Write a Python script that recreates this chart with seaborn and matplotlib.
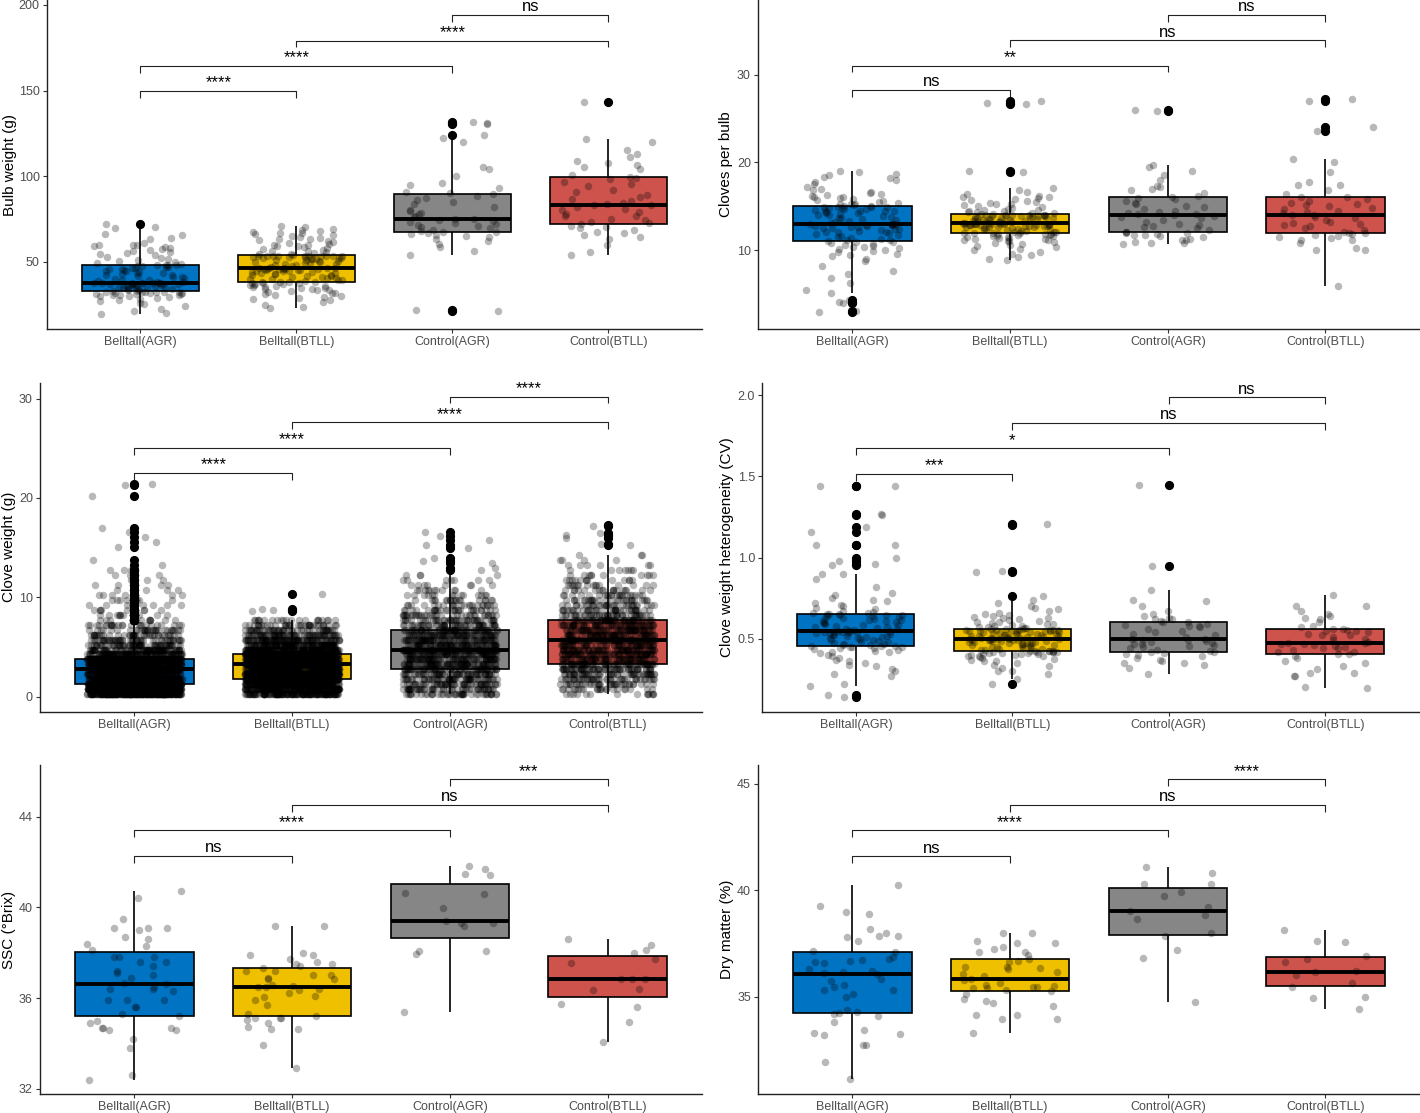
import numpy as np
import pandas as pd
import seaborn as sns
import matplotlib.pyplot as plt

groups = ["Belltall(AGR)", "Belltall(BTLL)", "Control(AGR)", "Control(BTLL)"]
box_colors = ["#0073C2", "#EFC000", "#868686", "#CD534C"]
pairs = [(0, 1), (0, 2), (1, 3), (2, 3)]

# Bulb weight (g)
bw_belltall_agr = [19.3, 20.2, 21.0, 22.5, 24.0, 25.1, 26.0, 27.0, 27.8, 28.3, 28.9, 29.4, 29.8, 30.0, 30.3,
                   30.5, 30.8, 31.0, 31.2, 31.4, 31.6, 31.8, 32.0, 32.1, 32.2, 32.3, 32.4, 32.5, 32.6, 32.7,
                   32.9, 33.2, 33.5, 33.8, 34.0, 34.2, 34.5, 34.7, 35.0, 35.2, 35.4, 35.6, 35.8, 36.0, 36.2,
                   36.4, 36.5, 36.7, 36.8, 37.0, 37.1, 37.2, 37.3, 37.4, 37.5, 37.6, 37.65, 37.7, 37.75, 37.8,
                   37.9, 38.3, 38.7, 39.2, 39.6, 40.0, 40.4, 40.8, 41.2, 41.6, 42.0, 42.4, 42.8, 43.2, 43.6,
                   44.0, 44.4, 44.8, 45.2, 45.5, 45.8, 46.1, 46.4, 46.7, 47.0, 47.3, 47.6, 47.8, 48.0, 48.1,
                   48.3, 48.8, 49.3, 49.8, 50.3, 50.8, 51.5, 52.2, 53.0, 53.8, 54.5, 55.0, 55.5, 56.0, 56.8,
                   57.5, 58.0, 58.5, 59.0, 59.5, 59.8, 60.0, 61.0, 63.0, 64.0, 65.5, 66.0, 69.8, 70.5, 72.3]
bw_belltall_btll = [22.8, 23.5, 25.0, 26.5, 27.5, 28.5, 29.0, 29.5, 30.0, 30.5, 31.0, 31.5, 32.0, 32.4, 32.8,
                    33.2, 33.5, 33.8, 34.1, 34.4, 34.7, 35.0, 35.3, 35.6, 35.9, 36.2, 36.5, 36.8, 37.0, 37.3,
                    37.6, 37.8, 38.0, 38.2, 38.35,
                    38.45, 38.8, 39.1, 39.4, 39.7, 40.0, 40.3, 40.6, 40.9, 41.2, 41.5, 41.8, 42.1, 42.4, 42.7,
                    43.0, 43.3, 43.6, 43.9, 44.1, 44.3, 44.5, 44.7, 44.9, 45.1, 45.3, 45.5, 45.6, 45.7, 45.8,
                    45.9, 46.0, 46.05, 46.1, 46.15,
                    46.25, 46.6, 47.0, 47.4, 47.8, 48.2, 48.5, 48.8, 49.1, 49.4, 49.7, 50.0, 50.3, 50.6, 50.9,
                    51.2, 51.4, 51.6, 51.8, 52.0, 52.2, 52.4, 52.6, 52.8, 53.0, 53.1, 53.2, 53.3, 53.35, 53.4,
                    53.45, 53.5, 53.52, 53.55, 53.6,
                    53.8, 54.3, 54.8, 55.2, 55.6, 56.0, 56.5, 57.0, 57.5, 58.0, 58.5, 59.0, 59.3, 59.6, 60.0,
                    60.5, 61.0, 61.5, 62.0, 62.5, 63.0, 63.5, 64.0, 64.5, 65.0, 65.5, 66.0, 66.5, 67.0, 67.5,
                    68.0, 68.5, 69.2, 70.0, 70.9]
bw_control_agr = [21.2, 21.6, 54.0, 56.5, 58.5, 60.5, 62.0, 63.5, 64.5, 65.0, 65.5, 66.0, 66.8, 67.2,
                  67.6, 68.2, 68.8, 69.5, 70.0, 70.8, 71.5, 72.0, 72.8, 73.5, 74.0, 74.5, 75.0,
                  75.2, 76.0, 77.0, 78.0, 78.5, 79.5, 80.5, 82.0, 83.5, 85.0, 86.0, 87.5, 88.5, 89.3,
                  89.9, 91.0, 93.0, 95.0, 96.0, 100.0, 104.0, 105.5, 120.0, 122.0, 124.0, 130.5, 131.0, 131.5]
bw_control_btll = [54.2, 55.5, 59.5, 63.5, 64.5, 65.5, 66.5, 67.5, 68.5, 69.5, 70.0, 71.0, 72.0,
                   72.4, 73.5, 74.5, 75.0, 76.5, 77.0, 78.0, 79.0, 80.0, 81.0, 82.0, 83.0, 83.3,
                   83.5, 84.5, 85.5, 86.5, 88.0, 89.0, 90.5, 92.0, 94.0, 95.5, 96.5, 98.5, 99.2,
                   99.6, 100.5, 104.0, 105.5, 106.5, 107.5, 109.0, 111.0, 113.0, 115.5, 120.0, 121.5, 143.5]
bw_sig = ["****", "****", "****", "ns"]
bw_bar_y = [149.8, 164.4, 179.2, 194.2]

# Cloves per bulb
cpb_belltall_agr = [2.9, 3.05, 3.95, 4.1, 4.25, 5.1, 5.5, 6.2, 6.8, 7.3, 7.6, 8.2, 8.8, 9.0,
                    9.3, 9.4, 9.6, 9.8, 9.9, 10.0, 10.1, 10.2, 10.3, 10.4, 10.5, 10.6, 10.7, 10.8, 10.9, 10.95,
                    11.05, 11.1, 11.2, 11.3, 11.4, 11.5, 11.6, 11.7, 11.8, 11.9, 12.0, 12.05, 12.1, 12.2, 12.3,
                    12.35, 12.4, 12.5, 12.55, 12.6, 12.65, 12.7, 12.75, 12.8, 12.85, 12.9, 12.92, 12.94, 12.96, 12.98,
                    13.02, 13.1, 13.2, 13.3, 13.4, 13.5, 13.6, 13.7, 13.8, 13.9, 14.0, 14.05, 14.1, 14.2, 14.25,
                    14.3, 14.4, 14.45, 14.5, 14.55, 14.6, 14.65, 14.7, 14.75, 14.8, 14.85, 14.9, 14.93, 14.96, 14.98,
                    15.05, 15.1, 15.2, 15.25, 15.3, 15.4, 15.5, 15.6, 15.7, 15.8, 15.9, 16.0, 16.1, 16.2, 16.3,
                    16.4, 16.5, 16.6, 16.8, 17.0, 17.2, 17.5, 17.7, 18.0, 18.2, 18.3, 18.5, 18.7, 18.9, 19.0]
cpb_belltall_btll = [8.9, 8.95, 9.2, 9.4, 9.6, 9.8, 10.0, 10.1, 10.3, 10.5, 10.6, 10.7, 10.8, 10.9, 11.0,
                     11.05, 11.1, 11.2, 11.25, 11.3, 11.35, 11.4, 11.45, 11.5, 11.55, 11.6, 11.65, 11.7, 11.75,
                     11.8, 11.85, 11.88, 11.91, 11.93, 11.95,
                     11.98, 12.02, 12.06, 12.1, 12.15, 12.2, 12.25, 12.3, 12.35, 12.4, 12.45, 12.5, 12.55, 12.6,
                     12.62, 12.65, 12.68, 12.7, 12.72, 12.75, 12.78, 12.8, 12.82, 12.85, 12.87, 12.89, 12.91,
                     12.93, 12.95, 12.96, 12.97, 12.98, 12.99, 13.0, 13.01,
                     13.05, 13.08, 13.1, 13.13, 13.16, 13.2, 13.23, 13.26, 13.3, 13.33, 13.36, 13.4, 13.43, 13.46,
                     13.5, 13.53, 13.56, 13.6, 13.63, 13.66, 13.7, 13.73, 13.76, 13.8, 13.83, 13.86, 13.88, 13.9,
                     13.92, 13.94, 13.96, 13.98, 14.0, 14.02, 14.04,
                     14.1, 14.15, 14.2, 14.25, 14.3, 14.35, 14.4, 14.5, 14.55, 14.6, 14.7, 14.8, 14.9, 15.0,
                     15.1, 15.2, 15.3, 15.4, 15.5, 15.6, 15.7, 15.8, 15.9, 16.0, 16.1, 16.2, 16.4, 16.6, 16.9,
                     17.1, 18.9, 19.0, 26.6, 26.8, 27.0]
cpb_control_agr = [10.7, 10.75, 10.8, 10.9, 11.1, 11.2, 11.3, 11.5, 11.6, 11.7, 11.75, 11.8, 11.9, 11.98,
                   12.02, 12.1, 12.3, 12.5, 12.6, 12.7, 12.8, 13.0, 13.2, 13.4, 13.6, 13.8, 13.9,
                   14.0,
                   14.1, 14.15, 14.2, 14.3, 14.5, 14.7, 14.9, 15.0, 15.2, 15.4, 15.6, 15.8, 15.95,
                   16.05, 16.2, 16.5, 16.8, 17.0, 17.2, 17.3, 18.0, 18.5, 19.0, 19.5, 19.7, 25.8, 26.0]
cpb_control_btll = [5.95, 10.0, 10.05, 10.2, 10.8, 11.1, 11.2, 11.4, 11.5, 11.6, 11.7, 11.8, 11.95,
                    11.99, 12.1, 12.3, 12.5, 12.7, 12.9, 13.0, 13.1, 13.2, 13.4, 13.6, 13.8, 13.95,
                    14.05, 14.2, 14.3, 14.5, 14.7, 14.8, 15.0, 15.1, 15.2, 15.4, 15.6, 15.8, 16.0,
                    16.1, 16.4, 16.8, 17.4, 17.4, 17.7, 18.9, 20.0, 20.4, 23.6, 24.0, 27.0, 27.2]
cpb_sig = ["ns", "**", "ns", "ns"]
cpb_bar_y = [28.26, 31.03, 33.92, 36.81]

# Clove weight (g): values read as levels with counts, plus the sparse upper tail
cw_levels = [0.25, 0.75, 1.25, 1.75, 2.25, 2.75, 3.25, 3.75, 4.25, 4.75, 5.25, 5.75, 6.25, 6.75, 7.25,
             7.75, 8.25, 8.75, 9.25, 9.75, 10.25, 10.75, 11.25, 11.75, 12.25, 12.75, 13.25, 13.75, 14.25]
cw_counts_belltall_agr = [238, 252, 266, 182, 154, 168, 196, 308, 112, 84, 63, 49, 39, 31, 25,
                          11, 10, 8, 7, 7, 6, 4, 4, 3, 3, 3, 1, 1, 0]
cw_counts_belltall_btll = [140, 182, 224, 266, 224, 196, 238, 224, 252, 168, 126, 98, 70, 49, 35,
                           21, 0, 0, 0, 0, 0, 0, 0, 0, 0, 0, 0, 0, 0]
cw_counts_control_agr = [42, 49, 53, 56, 59, 63, 63, 63, 63, 67, 63, 59, 56, 56, 49,
                         42, 35, 28, 22, 18, 14, 11, 8, 7, 4, 0, 0, 0, 0]
cw_counts_control_btll = [14, 22, 34, 42, 50, 59, 64, 62, 62, 62, 56, 62, 62, 62, 59,
                          56, 42, 36, 31, 28, 22, 18, 15, 13, 10, 7, 6, 4, 3]
cw_tail_belltall_agr = [15.1, 15.6, 16.1, 16.6, 17.0, 20.2, 21.3, 21.4]
cw_tail_belltall_btll = [8.6, 8.75, 8.8, 10.3]
cw_tail_control_agr = [12.8, 13.0, 13.5, 13.7, 14.0, 15.0, 15.3, 15.8, 16.2, 16.6]
cw_tail_control_btll = [15.3, 15.4, 16.0, 16.3, 16.5, 17.2, 17.3]
cw_sig = ["****", "****", "****", "****"]
cw_bar_y = [22.52, 25.03, 27.6, 30.2]

# Clove weight heterogeneity (CV)
cv_belltall_agr = [0.14, 0.15, 0.21, 0.22, 0.27, 0.28, 0.30, 0.31, 0.33, 0.34, 0.35, 0.36, 0.37, 0.38, 0.39,
                   0.40, 0.41, 0.415, 0.42, 0.425, 0.43, 0.435, 0.44, 0.443, 0.446, 0.449, 0.451, 0.453, 0.455, 0.456,
                   0.458, 0.462, 0.466, 0.47, 0.474, 0.478, 0.482, 0.486, 0.49, 0.494, 0.498, 0.502, 0.506, 0.51, 0.513,
                   0.516, 0.519, 0.522, 0.525, 0.528, 0.531, 0.534, 0.536, 0.538, 0.54, 0.542, 0.544, 0.545, 0.546, 0.548,
                   0.55, 0.554, 0.558, 0.562, 0.566, 0.57, 0.574, 0.578, 0.582, 0.586, 0.59, 0.594, 0.598, 0.602, 0.606,
                   0.61, 0.614, 0.618, 0.622, 0.626, 0.63, 0.634, 0.638, 0.641, 0.644, 0.646, 0.648, 0.65, 0.652, 0.653,
                   0.656, 0.66, 0.665, 0.67, 0.68, 0.69, 0.70, 0.71, 0.72, 0.73, 0.74, 0.75, 0.77, 0.78, 0.82,
                   0.87, 0.90, 0.90, 0.955, 0.96, 0.98, 1.00, 1.08, 1.08, 1.16, 1.19, 1.26, 1.27, 1.44, 1.44]
cv_belltall_btll = [0.22, 0.25, 0.28, 0.30, 0.30, 0.32, 0.33, 0.34, 0.35, 0.36, 0.365, 0.37, 0.375, 0.38, 0.385,
                    0.39, 0.393, 0.396, 0.399, 0.402, 0.404, 0.406, 0.408, 0.41, 0.412, 0.414, 0.416, 0.417, 0.418,
                    0.419, 0.42, 0.421, 0.422, 0.424, 0.425,
                    0.4265, 0.429, 0.432, 0.435, 0.438, 0.441, 0.444, 0.447, 0.45, 0.453, 0.456, 0.459, 0.462, 0.465,
                    0.468, 0.47, 0.472, 0.474, 0.476, 0.478, 0.48, 0.482, 0.484, 0.486, 0.488, 0.49, 0.491, 0.492,
                    0.493, 0.494, 0.495, 0.496, 0.497, 0.498, 0.499,
                    0.501, 0.503, 0.505, 0.507, 0.509, 0.511, 0.513, 0.515, 0.517, 0.519, 0.521, 0.523, 0.525, 0.527,
                    0.529, 0.531, 0.533, 0.535, 0.537, 0.539, 0.541, 0.543, 0.545, 0.546, 0.547, 0.548, 0.549, 0.55,
                    0.551, 0.552, 0.553, 0.554, 0.555, 0.556, 0.5565,
                    0.558, 0.561, 0.564, 0.567, 0.57, 0.573, 0.576, 0.58, 0.584, 0.588, 0.592, 0.596, 0.60, 0.605,
                    0.61, 0.615, 0.62, 0.625, 0.63, 0.635, 0.64, 0.645, 0.65, 0.66, 0.67, 0.68, 0.69, 0.70, 0.72,
                    0.74, 0.76, 0.91, 0.915, 1.20, 1.205]
cv_control_agr = [0.28, 0.32, 0.34, 0.35, 0.35, 0.36, 0.37, 0.38, 0.39, 0.40, 0.405, 0.41, 0.415, 0.418,
                  0.422, 0.43, 0.44, 0.45, 0.455, 0.46, 0.465, 0.47, 0.475, 0.48, 0.485, 0.49, 0.493,
                  0.496,
                  0.50, 0.51, 0.52, 0.53, 0.54, 0.55, 0.56, 0.57, 0.575, 0.58, 0.585, 0.59, 0.60,
                  0.604, 0.61, 0.62, 0.62, 0.63, 0.64, 0.65, 0.67, 0.70, 0.73, 0.74, 0.80, 0.95, 1.45]
cv_control_btll = [0.195, 0.20, 0.27, 0.27, 0.29, 0.29, 0.31, 0.33, 0.35, 0.36, 0.38, 0.39, 0.403,
                   0.407, 0.415, 0.42, 0.43, 0.44, 0.445, 0.45, 0.455, 0.46, 0.465, 0.47, 0.474,
                   0.476, 0.48, 0.49, 0.50, 0.51, 0.52, 0.525, 0.53, 0.54, 0.545, 0.55, 0.556,
                   0.56, 0.56, 0.57, 0.58, 0.60, 0.62, 0.63, 0.64, 0.65, 0.67, 0.70, 0.70, 0.767]
cv_sig = ["***", "*", "ns", "ns"]
cv_bar_y = [1.517, 1.673, 1.831, 1.99]

# SSC (°Brix)
ssc_belltall_agr = [32.4, 32.6, 33.8, 34.2, 34.6, 34.6, 34.7, 34.7, 34.7, 34.9, 35.0, 35.2, 35.3, 35.6, 35.6,
                    35.9, 35.9, 35.9, 36.3, 36.4, 36.4, 36.5, 36.6, 36.65, 36.9, 37.0, 37.1, 37.2, 37.4, 37.6,
                    37.6, 37.8, 37.8, 37.8, 38.1, 38.3, 38.4, 38.6, 38.7, 39.0, 39.1, 39.1, 39.1, 39.5, 40.4, 40.7]
ssc_belltall_btll = [32.93, 33.91, 34.62, 34.65, 34.74, 34.88, 35.03, 35.1, 35.13, 35.13, 35.22, 35.3, 35.71,
                     35.93, 36.03, 36.1, 36.22, 36.35, 36.38, 36.47, 36.49, 36.54, 36.57, 36.82, 36.85, 36.88,
                     37.0, 37.01, 37.19, 37.19, 37.32, 37.41, 37.49, 37.51, 37.59, 37.71, 37.9, 37.9, 38.0,
                     39.18, 39.19]
ssc_control_agr = [35.40, 37.94, 38.07, 38.09, 39.19, 39.29, 39.29, 39.38, 39.97, 40.59, 40.62, 41.43, 41.47,
                   41.69, 41.82]
ssc_control_btll = [34.07, 34.93, 35.62, 35.74, 36.35, 36.38, 36.82, 36.82, 36.82, 37.53, 37.72, 38.0, 38.12,
                    38.32, 38.6]
ssc_sig = ["ns", "****", "ns", "***"]
ssc_bar_y = [42.27, 43.4, 44.53, 45.65]

# Dry matter (%)
dm_belltall_agr = [31.12, 31.92, 32.73, 32.73, 33.18, 33.25, 33.29, 33.43, 33.83, 34.11, 34.17, 34.23, 34.3,
                   34.37, 34.97, 35.11, 35.31, 35.31, 35.47, 35.55, 35.75, 35.85, 36.06, 36.1, 36.17, 36.2,
                   36.28, 36.6, 36.63, 36.69, 36.7, 36.77, 36.88, 37.10, 37.14, 37.63, 37.82, 37.85, 37.86,
                   38.0, 38.18, 38.88, 38.99, 39.26, 40.23]
dm_belltall_btll = [33.28, 33.94, 33.94, 34.14, 34.14, 34.56, 34.69, 34.8, 34.87, 35.11, 35.26, 35.3, 35.39,
                    35.42, 35.44, 35.44, 35.48, 35.55, 35.63, 35.78, 35.85, 35.95, 36.05, 36.17, 36.3, 36.36,
                    36.41, 36.41, 36.63, 36.67, 36.79, 36.96, 37.08, 37.1, 37.22, 37.32, 37.5, 37.5, 37.61,
                    37.99, 37.99]
dm_control_agr = [34.73, 36.82, 37.19, 37.85, 37.97, 38.63, 38.82, 39.01, 39.23, 39.74, 39.93, 40.29, 40.31,
                  40.82, 41.1]
dm_control_btll = [34.44, 34.92, 35.0, 35.44, 35.63, 36.02, 36.14, 36.19, 36.63, 36.77, 36.89, 37.57, 37.6,
                   38.11]
dm_sig = ["ns", "****", "ns", "****"]
dm_bar_y = [41.6, 42.81, 44.01, 45.2]


def clove_values(counts, tail):
    return list(np.repeat(cw_levels, counts)) + tail


def draw_panel(ax, series, ylabel, ylim, yticks, sig, bar_y, label_x):
    df = pd.DataFrame({
        "group": np.repeat(groups, [len(s) for s in series]),
        "value": np.concatenate([np.asarray(s, dtype=float) for s in series]),
    })
    sns.boxplot(data=df, x="group", y="value", hue="group", order=groups, hue_order=groups,
                palette=box_colors, saturation=1, width=0.75, linewidth=1.2, linecolor="black",
                showcaps=False,
                flierprops=dict(marker="o", markerfacecolor="black", markeredgecolor="black",
                                markersize=5.6),
                medianprops=dict(linewidth=2.8), legend=False, ax=ax)
    sns.stripplot(data=df, x="group", y="value", order=groups, color="black", alpha=0.28,
                  size=5.4, jitter=0.3, linewidth=0, zorder=3, ax=ax)

    ax.set_xlim(-0.6, 3.6)
    ax.set_ylim(*ylim)
    ax.set_yticks(yticks)
    ax.set_xlabel("")
    ax.set_ylabel(ylabel, fontsize=11, color="black")
    ax.yaxis.set_label_coords(label_x, 0.5)
    for s in ["top", "right"]:
        ax.spines[s].set_visible(False)
    for s in ["left", "bottom"]:
        ax.spines[s].set_linewidth(1.0)
        ax.spines[s].set_color("#222222")
    ax.tick_params(axis="both", length=3, width=0.8, color="#333333", labelsize=9,
                   labelcolor="#4D4D4D", pad=2)

    # significance brackets
    tip = 0.021 * (ylim[1] - ylim[0])
    for (a, b), y, lab in zip(pairs, bar_y, sig):
        ax.plot([a, a, b, b], [y - tip, y, y, y - tip], color="#222222", lw=0.8,
                solid_capstyle="butt", clip_on=False)
        ax.annotate(lab, xy=((a + b) / 2, y), xytext=(0, 0.3), textcoords="offset points",
                    ha="center", va="bottom", fontsize=12, color="black")


sns.set_style("ticks")
plt.rcParams["font.family"] = ["Liberation Sans", "DejaVu Sans"]
np.random.seed(7)

fig = plt.figure(figsize=(14.2, 11.13), dpi=100)

ax_bw = fig.add_axes([0.0328, 0.7044, 0.4616, 0.2956])
ax_cpb = fig.add_axes([0.5337, 0.7044, 0.4663, 0.2956])
ax_cw = fig.add_axes([0.0280, 0.3606, 0.4665, 0.2956])
ax_cv = fig.add_axes([0.5366, 0.3606, 0.4627, 0.2956])
ax_ssc = fig.add_axes([0.0280, 0.0171, 0.4665, 0.2956])
ax_dm = fig.add_axes([0.5337, 0.0171, 0.4663, 0.2956])

draw_panel(ax_bw, [bw_belltall_agr, bw_belltall_btll, bw_control_agr, bw_control_btll],
           "Bulb weight (g)", (10.7, 202.9), [50, 100, 150, 200], bw_sig, bw_bar_y, -0.045)
draw_panel(ax_cpb, [cpb_belltall_agr, cpb_belltall_btll, cpb_control_agr, cpb_control_btll],
           "Cloves per bulb", (1.0, 38.5), [10, 20, 30], cpb_sig, cpb_bar_y, -0.0375)
draw_panel(ax_cw, [clove_values(cw_counts_belltall_agr, cw_tail_belltall_agr),
                   clove_values(cw_counts_belltall_btll, cw_tail_belltall_btll),
                   clove_values(cw_counts_control_agr, cw_tail_control_agr),
                   clove_values(cw_counts_control_btll, cw_tail_control_btll)],
           "Clove weight (g)", (-1.5, 31.6), [0, 10, 20, 30], cw_sig, cw_bar_y, -0.036)
draw_panel(ax_cv, [cv_belltall_agr, cv_belltall_btll, cv_control_agr, cv_control_btll],
           "Clove weight heterogeneity (CV)", (0.05, 2.078), [0.5, 1.0, 1.5, 2.0], cv_sig, cv_bar_y,
           -0.0426)
draw_panel(ax_ssc, [ssc_belltall_agr, ssc_belltall_btll, ssc_control_agr, ssc_control_btll],
           "SSC (°Brix)", (31.77, 46.28), [32, 36, 40, 44], ssc_sig, ssc_bar_y, -0.036)
draw_panel(ax_dm, [dm_belltall_agr, dm_belltall_btll, dm_control_agr, dm_control_btll],
           "Dry matter (%)", (30.43, 45.88), [35, 40, 45], dm_sig, dm_bar_y, -0.036)

ax_cv.set_yticklabels(["0.5", "1.0", "1.5", "2.0"])

fig.savefig("out.png", dpi=100)
